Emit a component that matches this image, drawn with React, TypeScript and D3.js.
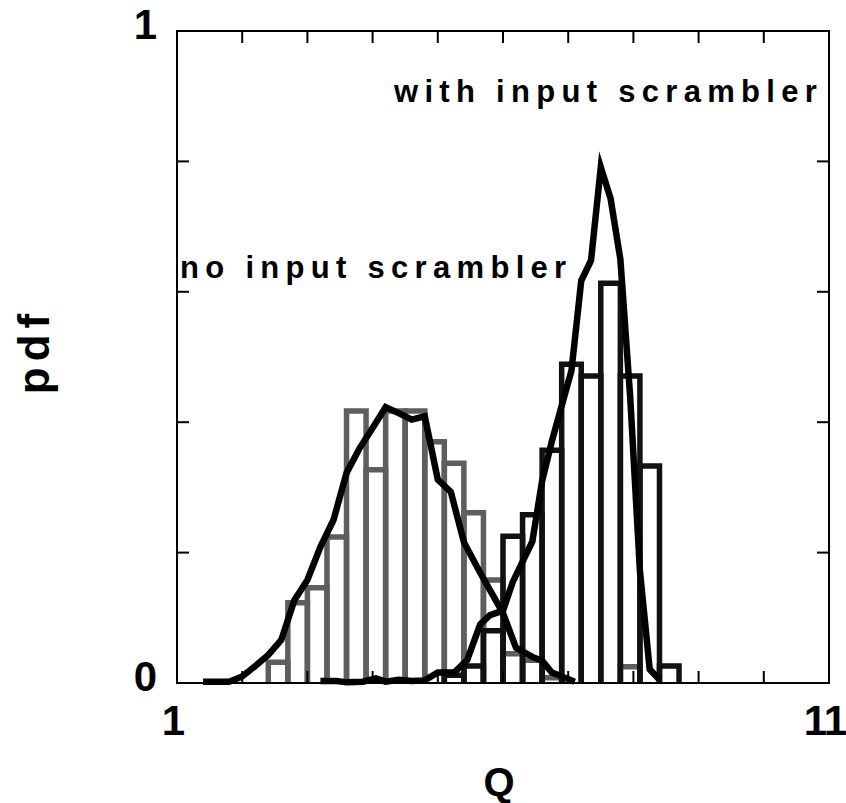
import React from "react";
import * as d3 from "d3";

// ---- data ----
const xTickValues = [1, 2, 3, 4, 5, 6, 7, 8, 9, 10, 11];
const xTickLabels = ["1", "", "", "", "", "", "", "", "", "", "11"];
const yTickValues = [0, 0.2, 0.4, 0.6, 0.8, 1];
const yTickLabels = ["0", "", "", "", "", "1"];

const binWidth = 0.3;
// histogram without input scrambler (grey)
const noBinStart = [2.4, 2.7, 3.0, 3.3, 3.6, 3.9, 4.2, 4.5, 4.8, 5.1, 5.4, 5.7, 6.0, 6.3, 6.6, 7.8];
const noBinValue = [0.032, 0.123, 0.146, 0.224, 0.417, 0.327, 0.417, 0.417, 0.37, 0.337, 0.261, 0.158, 0.045, 0.035, 0.008, 0.025];
// histogram with input scrambler (black)
const withBinStart = [5.1, 5.4, 5.7, 6.0, 6.3, 6.6, 6.9, 7.2, 7.5, 7.8, 8.1, 8.4];
const withBinValue = [0.012, 0.026, 0.08, 0.225, 0.258, 0.357, 0.489, 0.471, 0.613, 0.471, 0.333, 0.026];

// pdf curves
const noCurveQ = [1.4, 1.6, 1.8, 2.0, 2.2, 2.4, 2.6, 2.8, 3.0, 3.2, 3.4, 3.6, 3.8, 4.0, 4.2, 4.4, 4.6, 4.8, 5.0, 5.2, 5.4, 5.65, 6.0, 6.2, 6.45, 6.6, 6.75, 6.95, 7.1];
const noCurveV = [0.002, 0.002, 0.002, 0.01, 0.026, 0.043, 0.066, 0.127, 0.158, 0.209, 0.25, 0.322, 0.36, 0.391, 0.423, 0.414, 0.404, 0.409, 0.312, 0.293, 0.216, 0.169, 0.107, 0.054, 0.04, 0.034, 0.016, 0.008, 0.002];
const withCurveQ = [3.2, 3.45, 3.6, 3.85, 4.05, 4.2, 4.4, 4.6, 4.8, 5.0, 5.25, 5.45, 5.65, 5.8, 6.0, 6.15, 6.45, 6.6, 6.75, 7.05, 7.2, 7.35, 7.5, 7.65, 7.8, 7.95, 8.1, 8.25, 8.4];
const withCurveV = [0.003, 0.003, 0.001, 0.002, 0.007, 0.002, 0.005, 0.003, 0.004, 0.016, 0.016, 0.035, 0.09, 0.104, 0.111, 0.155, 0.217, 0.31, 0.371, 0.479, 0.617, 0.648, 0.791, 0.743, 0.65, 0.44, 0.172, 0.021, 0.005];

const labelNo = "no input scrambler";
const labelWith = "with input scrambler";
const xTitle = "Q";
const yTitle = "pdf";

const W = 846;
const H = 803;
const M = { left: 177, top: 31, right: 17, bottom: 120 };
const FONT = "'Liberation Sans', Arial, Helvetica, sans-serif";

export default function App() {
  const x = d3.scaleLinear().domain([1, 11]).range([M.left, W - M.right]);
  const y = d3.scaleLinear().domain([0, 1]).range([H - M.bottom, M.top]);
  const x0 = x.range()[0], x1 = x.range()[1];
  const y0 = y.range()[0], y1 = y.range()[1];
  const tick = 12;

  const line = d3
    .line<[number, number]>()
    .x((d) => x(d[0]))
    .y((d) => y(d[1]));

  const barPath = (q: number, v: number) =>
    `M${x(q)},${y(0)}V${y(v)}H${x(q + binWidth)}V${y(0)}`;

  const noPts = noCurveQ.map((q, i) => [q, noCurveV[i]] as [number, number]);
  const withPts = withCurveQ.map((q, i) => [q, withCurveV[i]] as [number, number]);

  return (
    <svg
      width={W}
      height={H}
      style={{ position: "absolute", left: 0, top: 0, background: "#fff" }}
      fontFamily={FONT}
      fontWeight="bold"
    >
      {/* grey histogram */}
      <g fill="none" stroke="#5e5e5e" strokeWidth={5.5}>
        {noBinStart.map((q, i) => (
          <path key={i} d={barPath(q, noBinValue[i])} />
        ))}
      </g>
      {/* black histogram */}
      <g fill="none" stroke="#111" strokeWidth={5.5}>
        {withBinStart.map((q, i) => (
          <path key={i} d={barPath(q, withBinValue[i])} />
        ))}
      </g>
      {/* curves */}
      <g fill="none" stroke="#000" strokeWidth={6.5} strokeLinejoin="miter" strokeMiterlimit={10}>
        <path d={line(noPts) || ""} />
        <path d={line(withPts) || ""} />
      </g>

      {/* frame */}
      <rect x={x0} y={y1} width={x1 - x0} height={y0 - y1} fill="none" stroke="#000" strokeWidth={2} />
      <g stroke="#000" strokeWidth={2}>
        {xTickValues.map((v) => (
          <g key={"x" + v}>
            <line x1={x(v)} x2={x(v)} y1={y0} y2={y0 - tick} />
            <line x1={x(v)} x2={x(v)} y1={y1} y2={y1 + tick} />
          </g>
        ))}
        {yTickValues.map((v) => (
          <g key={"y" + v}>
            <line x1={x0} x2={x0 + tick} y1={y(v)} y2={y(v)} />
            <line x1={x1} x2={x1 - tick} y1={y(v)} y2={y(v)} />
          </g>
        ))}
      </g>

      {/* tick labels */}
      <g fontSize={42} fill="#000">
        {xTickValues.map((v, i) =>
          xTickLabels[i] ? (
            <text key={"xl" + v} x={x(v)} dx={-4} y={735} textAnchor="middle" letterSpacing={-1}>
              {xTickLabels[i]}
            </text>
          ) : null
        )}
        {yTickValues.map((v, i) =>
          yTickLabels[i] ? (
            <text key={"yl" + v} x={x0 - 20} y={y(v) + 8} textAnchor="end">
              {yTickLabels[i]}
            </text>
          ) : null
        )}
      </g>

      {/* axis titles */}
      <text x={(x0 + x1) / 2 - 4} y={796} fontSize={40} textAnchor="middle">
        {xTitle}
      </text>
      <text
        transform={`translate(49,${(y0 + y1) / 2 - 6}) rotate(-90)`}
        fontSize={44}
        letterSpacing={6}
        textAnchor="middle"
      >
        {yTitle}
      </text>

      {/* annotations */}
      <text x={394} y={102} fontSize={31} letterSpacing={6.3}>
        {labelWith}
      </text>
      <text x={180} y={278} fontSize={31} letterSpacing={6.3}>
        {labelNo}
      </text>
    </svg>
  );
}
